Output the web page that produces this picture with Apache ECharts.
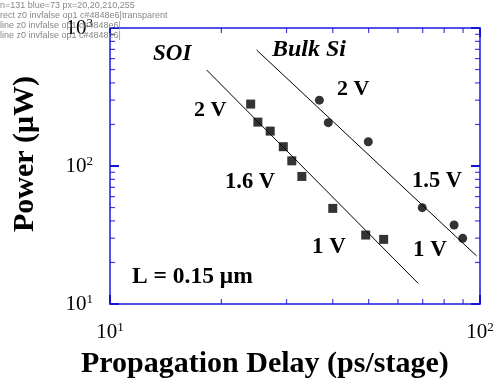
<!DOCTYPE html>
<html>
<head>
<meta charset="utf-8">
<script src="https://cdn.jsdelivr.net/npm/echarts@6/dist/echarts.min.js"></script>
<style>html,body{margin:0;padding:0;background:#fff;}#c{width:499px;height:391px;}#dbg{position:absolute;left:0;top:0;font:9px sans-serif;color:#888;white-space:pre;}</style>
</head>
<body>
<div id="c"></div>
<div id="dbg"></div>
<script>
window.onerror = function (m) { document.getElementById('dbg').textContent += 'ERR ' + m + '\n'; };
// Data (propagation delay ps/stage, power µW)
const soiDelay = [24.0, 25.1, 27.1, 29.4, 31.0, 33.0, 40.0, 49.1, 54.9];
const soiPower = [281, 208, 179, 138, 109, 84, 49.3, 31.6, 29.4];
const bulkDelay = [36.8, 38.9, 49.9, 69.8, 85.1, 89.8];
const bulkPower = [300, 206, 150, 49.9, 37.4, 29.9];
const soiFitDelay = [18.25, 68.1];
const soiFitPower = [496, 14.1];
const bulkFitDelay = [24.9, 97.9];
const bulkFitPower = [693, 22.3];
const xMajorTicks = [10, 100];
const yMajorTicks = [10, 100, 1000];
const xMinorTicks = [20, 30, 40, 50, 60, 70, 80, 90];
const yMinorTicks = [20, 30, 40, 50, 60, 70, 80, 90, 200, 300, 400, 500, 600, 700, 800, 900];
const xTickLabels = {10: '1', 100: '2'};
const yTickLabels = {10: '1', 100: '2', 1000: '3'};
const annotationTexts = ['SOI', 'Bulk Si', '2 V', '2 V', '1.6 V', '1.5 V', '1 V', '1 V', 'L = 0.15 μm'];
const xTitle = 'Propagation Delay (ps/stage)';
const yTitle = 'Power (μW)';

const annoLayout = [
  {x: 153, y: 56, fs: 23, italic: true},
  {x: 272, y: 51, fs: 24, italic: true},
  {x: 337, y: 90, fs: 22},
  {x: 194, y: 111, fs: 22},
  {x: 225, y: 184, fs: 22.5},
  {x: 412, y: 183, fs: 22.5},
  {x: 312, y: 249, fs: 23},
  {x: 413, y: 252, fs: 23},
  {x: 132, y: 278, fs: 23.5}
];

const zip = (a, b) => a.map((v, i) => [v, b[i]]);
const at = (vals, fixed, isX) => vals.map(v => isX ? [v, fixed] : [fixed, v]);
const AX = '#4848e6';
const TK = '#1414d2';
const FONT = '"Liberation Serif", "DejaVu Serif", serif';

function richLabel(map) {
  return v => {
    const e = map[Math.round(v)];
    return e ? '{b|10}{s|' + e + '}' : '';
  };
}
const rich = {
  b: {fontSize: 21, fontFamily: FONT, color: '#000', lineHeight: 22},
  s: {fontSize: 13, fontFamily: FONT, color: '#000', verticalAlign: 'top', lineHeight: 22, padding: [0, 0, 12, 0]}
};

function axisCommon(extra) {
  return Object.assign({
    type: 'log', logBase: 10,
    axisLine: {show: true, onZero: false, lineStyle: {color: AX, width: 1.5}},
    axisTick: {show: true, inside: true, length: 9, lineStyle: {color: TK, width: 2}},
    splitLine: {show: false},
    minorTick: {show: false}
  }, extra);
}
function tickSeries(data, size, offset) {
  return {type: 'scatter', data: data, symbol: 'rect', symbolSize: size, symbolOffset: offset,
    itemStyle: {color: TK}, silent: true, clip: false, z: 5};
}

const titles = annotationTexts.map((t, i) => {
  const a = annoLayout[i];
  return {text: t, left: a.x, top: Math.round(a.y - 0.56 * a.fs), padding: 0, itemGap: 0,
    textStyle: {fontFamily: FONT, fontWeight: 'bold', fontStyle: a.italic ? 'italic' : 'normal',
      fontSize: a.fs, color: '#000'}};
});
titles.push({text: xTitle, left: 81, top: 349, padding: 0,
  textStyle: {fontFamily: FONT, fontWeight: 'bold', fontSize: 30, color: '#000'}});

const chart = echarts.init(document.getElementById('c'));
chart.setOption({
  animation: false,
  backgroundColor: '#fff',
  title: titles,
  grid: {left: 110, right: 19, top: 28, bottom: 87, show: true, borderColor: AX, borderWidth: 1.5, backgroundColor: 'transparent'},
  xAxis: [
    axisCommon({min: 10, max: 100, position: 'bottom',
      axisLabel: {formatter: richLabel(xTickLabels), margin: 17, rich: rich}}),
    axisCommon({min: 10, max: 100, position: 'top', axisLabel: {show: false}})
  ],
  yAxis: [
    axisCommon({min: 10, max: 1000, position: 'left',
      name: yTitle, nameLocation: 'middle', nameRotate: 90, nameGap: 70,
      nameTextStyle: {fontFamily: FONT, fontWeight: 'bold', fontSize: 30, color: '#000', padding: [0, 0, 0, 24]},
      axisLabel: {formatter: richLabel(yTickLabels), margin: 17, rich: rich}}),
    axisCommon({min: 10, max: 1000, position: 'right', axisLabel: {show: false}})
  ],
  series: [
    {type: 'line', data: zip(soiFitDelay, soiFitPower), symbol: 'none',
      lineStyle: {color: '#000', width: 1}, silent: true},
    {type: 'line', data: zip(bulkFitDelay, bulkFitPower), symbol: 'none',
      lineStyle: {color: '#000', width: 1}, silent: true},
    {type: 'scatter', data: zip(soiDelay, soiPower), symbol: 'rect', symbolSize: 9,
      itemStyle: {color: '#000'}, z: 6},
    {type: 'scatter', data: zip(bulkDelay, bulkPower), symbol: 'circle', symbolSize: 9,
      itemStyle: {color: '#000'}, z: 6},
    tickSeries(at(xMinorTicks, 10, true), [1.2, 5], [0, -2.5]),
    tickSeries(at(xMinorTicks, 1000, true), [1.2, 5], [0, 2.5]),
    tickSeries(at(yMinorTicks, 10, false), [5, 1.2], [2.5, 0]),
    tickSeries(at(yMinorTicks, 100, false), [5, 1.2], [-2.5, 0]),
    tickSeries(at(xMajorTicks, 10, true), [2, 9], [0, -4.5]),
    tickSeries(at(xMajorTicks, 1000, true), [2, 9], [0, 4.5]),
    tickSeries(at(yMajorTicks, 10, false), [9, 2], [4.5, 0]),
    tickSeries(at(yMajorTicks, 100, false), [9, 2], [-4.5, 0])
  ]
});

// diagnostics
try {
  const list = chart.getZr().storage.getDisplayList(true);
  let nBlue = 0, info = [];
  list.forEach(el => {
    const s = el.style || {};
    const c = String(s.stroke || '') + '|' + String(s.fill || '');
    if (c.toLowerCase().indexOf('48e6') >= 0 || c.toLowerCase().indexOf('14d2') >= 0) {
      nBlue++;
      if (info.length < 3) info.push(el.type + ' z' + el.z + ' inv' + el.invisible + ' op' + s.opacity + ' c' + c);
    }
  });
  const cv = document.querySelector('#c canvas');
  const px = cv.getContext('2d').getImageData(110, 166, 1, 1).data;
  document.getElementById('dbg').textContent += 'n=' + list.length + ' blue=' + nBlue + ' px=' + Array.from(px).join(',') + '\n' + info.join('\n');
} catch (e) { document.getElementById('dbg').textContent += 'DERR ' + e.message; }
</script>
</body>
</html>
